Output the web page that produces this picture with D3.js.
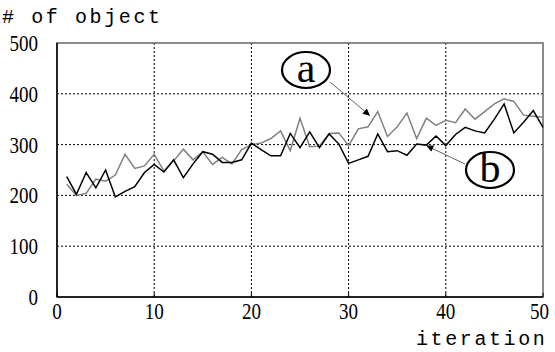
<!DOCTYPE html>
<html><head><meta charset="utf-8">
<script src="https://cdn.jsdelivr.net/npm/d3@7"></script>
<style>body{margin:0;background:#fff}</style>
</head><body><svg id="c" width="555" height="352"></svg>
<script>
const iterations = d3.range(1, 51);
const seriesA = [222,200,204,232,228,240,281,253,258,281,248,268,291,270,286,261,275,262,290,300,303,312,327,288,352,296,297,322,323,298,331,335,365,316,335,362,312,352,338,348,343,370,350,365,380,390,385,358,356,354];
const seriesB = [237,202,245,215,250,197,208,217,245,261,246,270,235,262,286,281,265,265,270,303,290,278,278,322,294,325,294,321,301,263,270,277,321,286,288,279,301,299,317,298,320,334,327,323,350,380,323,344,367,334];
const xTicks = [0,10,20,30,40,50];
const yTicks = [0,100,200,300,400,500];
const labelA = 'a', labelB = 'b';

const svg = d3.select('#c');
const m = {l:57, r:543, t:43, b:297};
const x = d3.scaleLinear().domain([0,50]).range([m.l, m.r]);
const y = d3.scaleLinear().domain([0,500]).range([m.b, m.t]);

// grid
svg.append('g').selectAll('line').data(yTicks.slice(1,5)).join('line')
  .attr('x1', m.l).attr('x2', m.r).attr('y1', d=>y(d)).attr('y2', d=>y(d))
  .attr('stroke','#000').attr('stroke-width',1).attr('stroke-dasharray','2,2');
svg.append('g').selectAll('line').data(xTicks.slice(1,5)).join('line')
  .attr('y1', m.t).attr('y2', m.b).attr('x1', d=>x(d)).attr('x2', d=>x(d))
  .attr('stroke','#000').attr('stroke-width',1).attr('stroke-dasharray','2,2');

// frame
svg.append('rect').attr('x',m.l).attr('y',m.t).attr('width',m.r-m.l).attr('height',m.b-m.t)
  .attr('fill','none').attr('stroke','#666').attr('stroke-width',1.5);
svg.append('line').attr('x1',m.l).attr('x2',m.l).attr('y1',m.t).attr('y2',m.b).attr('stroke','#000').attr('stroke-width',1.5);
svg.append('line').attr('x1',m.l).attr('x2',m.r).attr('y1',m.b).attr('y2',m.b).attr('stroke','#000').attr('stroke-width',1.5);

// axes labels
const tickFont = '"Liberation Serif", serif';
svg.append('g').selectAll('text').data(yTicks).join('text')
  .attr('x', 38).attr('y', d=>y(d)+8).attr('text-anchor','end')
  .attr('font-family', tickFont).attr('font-size', 24)
  .attr('textLength', d=>String(d).length*9.5).attr('lengthAdjust','spacingAndGlyphs').text(d=>d);
svg.append('g').selectAll('text').data(xTicks).join('text')
  .attr('x', d=> d===50 ? x(d)+6 : x(d)+String(d).length*4.75).attr('y', 319).attr('text-anchor','end')
  .attr('font-family', tickFont).attr('font-size', 24)
  .attr('textLength', d=>String(d).length*9.5).attr('lengthAdjust','spacingAndGlyphs').text(d=>d);
svg.append('g').selectAll('line').data(xTicks).join('line')
  .attr('x1', d=>x(d)).attr('x2', d=>x(d)).attr('y1', m.b).attr('y2', m.b-4).attr('stroke','#000');

svg.append('text').attr('x',2).attr('y',23).attr('font-family','"Liberation Mono", monospace')
  .attr('font-size',20).attr('letter-spacing',2.6).text('# of object');
svg.append('text').attr('x',416).attr('y',345).attr('font-family','"Liberation Mono", monospace')
  .attr('font-size',20).attr('letter-spacing',2.6).text('iteration');

// lines
const line = (vals) => d3.line().x((d,i)=>x(iterations[i])).y(d=>y(d))(vals);
svg.append('path').attr('d', line(seriesA)).attr('fill','none').attr('stroke','#808080').attr('stroke-width',1.5);
svg.append('path').attr('d', line(seriesB)).attr('fill','none').attr('stroke','#000').attr('stroke-width',1.5);

// annotations
svg.append('defs').append('marker').attr('id','ah').attr('viewBox','0 0 10 10').attr('refX',10).attr('refY',5)
  .attr('markerWidth',16).attr('markerHeight',7).attr('orient','auto').attr('markerUnits','userSpaceOnUse')
  .append('path').attr('d','M0,0 L10,5 L0,10 z').attr('fill','#000');
function note(cx, cy, label, tx, ty, fx, fy){
  svg.append('line').attr('x1',fx).attr('y1',fy).attr('x2',tx).attr('y2',ty)
    .attr('stroke','#666').attr('stroke-width',1).attr('marker-end','url(#ah)');
  svg.append('ellipse').attr('cx',cx).attr('cy',cy).attr('rx',24).attr('ry',18)
    .attr('fill','#fff').attr('stroke','#000').attr('stroke-width',2.2);
  svg.append('text').attr('x',cx).attr('y',cy+12).attr('text-anchor','middle')
    .attr('font-family',tickFont).attr('font-size',42).text(label);
}
note(306, 70, labelA, x(32.2), y(357), 330, 82);
note(490, 170, labelB, x(38), y(298), 465, 164);
</script></body></html>
